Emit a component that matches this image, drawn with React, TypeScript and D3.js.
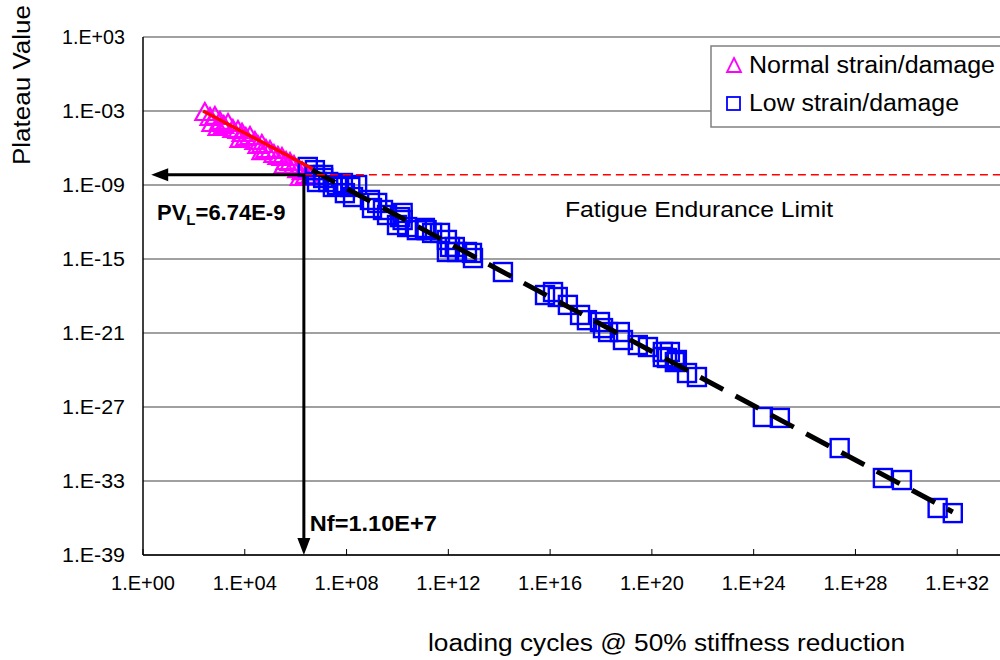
import { useRef, useEffect } from "react";
import * as d3 from "d3";

// axis ticks
const xTicks = [1e0, 1e4, 1e8, 1e12, 1e16, 1e20, 1e24, 1e28, 1e32];
const xTickLabels = ["1.E+00", "1.E+04", "1.E+08", "1.E+12", "1.E+16", "1.E+20", "1.E+24", "1.E+28", "1.E+32"];
const yTicks = [1e3, 1e-3, 1e-9, 1e-15, 1e-21, 1e-27, 1e-33, 1e-39];
const yTickLabels = ["1.E+03", "1.E-03", "1.E-09", "1.E-15", "1.E-21", "1.E-27", "1.E-33", "1.E-39"];

// Normal strain/damage (triangles)
const normalX = [
  2.7e2, 4.3e2, 6.7e2, 1.06e3, 1.5e3, 2.2e3, 3.4e3, 5.4e3, 7.8e3, 1.1e4, 1.6e4, 2.5e4, 3.3e4,
  4.7e4, 6.8e4, 9.8e4, 1.4e5, 2.0e5, 2.9e5, 4.2e5, 6.0e5, 8.6e5, 1.2e6, 1.8e6, 2.5e6, 3.6e6,
  5.1e2, 8.9e2, 6.5e3, 4.7e4, 3.5e5, 1.5e6,
];
const normalY = [
  6.9e-4, 2.7e-4, 3.3e-4, 1.3e-4, 6.1e-5, 8.8e-5, 2.9e-5, 2.4e-5, 1.4e-5, 6.5e-6, 7.8e-6, 3.1e-6, 1.45e-6,
  1.75e-6, 6.9e-7, 5.7e-7, 2.7e-7, 1.9e-7, 1.55e-7, 7.3e-8, 6.1e-8, 3.5e-8, 1.6e-8, 1.1e-8, 5.4e-9, 3.7e-9,
  8.8e-5, 4.2e-5, 4.5e-6, 4.7e-7, 3.5e-8, 3.7e-9,
];

// Low strain/damage (squares)
const lowX = [
  3.0e6, 5.7e6, 5.7e6, 1.2e7, 1.2e7, 6.9e6, 1.9e7, 2.9e7, 4.2e7, 7.2e7, 1.4e8, 2.6e8, 8.6e7, 1.8e8,
  8.3e8, 1.6e9, 1.0e9, 2.7e9, 3.9e9, 1.25e10, 1.6e10, 9.6e9, 2.4e10, 5.8e10, 1.4e11, 1.6e10, 1.2e11,
  2.3e11, 4.7e11, 8.8e11, 1.16e12, 1.8e12, 8.8e11, 2.2e12, 5.4e12, 8.5e12, 9.3e12, 1.4e14,
  6.3e15, 1.3e16, 2.0e16, 5.0e16, 1.5e17, 2.8e17, 9.1e17, 1.2e18, 1.9e18, 5.5e18, 7.3e18, 2.8e19,
  7.0e19, 2.7e20, 3.9e20, 9.6e20, 2.4e21, 5.9e21, 2.7e20, 5.1e20, 8.0e20,
  2.3e24, 1.07e25, 2.4e27, 1.2e29, 6.7e29, 1.7e31, 6.7e31,
];
const lowY = [
  2.9e-8, 1.6e-8, 6.5e-9, 6.5e-9, 3.7e-9, 1.75e-9, 1.75e-9, 6.9e-10, 1.0e-9, 1.45e-9, 6.9e-10, 1.0e-9, 2.2e-10, 1.06e-10,
  6.1e-11, 3.5e-11, 1.36e-11, 9.4e-12, 3.7e-12, 2.5e-12, 1.45e-12, 5.7e-13, 3.9e-13, 2.2e-13, 2.2e-13, 5.4e-12, 3.3e-13,
  1.3e-13, 1.3e-13, 3.5e-14, 9.4e-15, 9.4e-15, 3.7e-15, 3.7e-15, 3.7e-15, 3.1e-15, 1.2e-15, 8.8e-17,
  1.2e-18, 2.1e-18, 8.3e-19, 1.9e-19, 2.9e-20, 1.1e-20, 7.8e-21, 2.5e-21, 1.2e-21, 1.2e-21, 2.7e-22, 1.06e-22,
  7.3e-23, 2.9e-23, 9.4e-24, 6.5e-24, 5.7e-25, 2.7e-25, 1.13e-23, 2.9e-23, 4.4e-24,
  1.55e-28, 1.3e-28, 4.7e-31, 1.75e-33, 1.2e-33, 6.5e-36, 2.5e-36,
];

// fitted trend lines
const normalFitX = [2.3e2, 4.8e6];
const normalFitY = [1.0e-3, 2.0e-8];
const lowFitX = [4.4e6, 6.7e31];
const lowFitY = [1.6e-8, 3.1e-36];

// fatigue endurance limit
const plateauLimit = 6.74e-9;
const nfAtLimit = 2.1e6;
const arrowLeftX = 2.1;
const limitEndX = 1e36;

const FONT = "'Liberation Sans', Arial, sans-serif";

const App = () => {
  const svgRef = useRef<SVGSVGElement>(null);

  useEffect(() => {
    const svg = d3.select(svgRef.current);
    svg.selectAll("*").remove();

    const width = 1000;
    const height = 660;
    const margin = { top: 37, left: 143, bottom: 105 };

    const x = d3.scaleLog().domain([1, 1e36]).range([margin.left, 1059]);
    const y = d3.scaleLog().domain([1e3, 1e-39]).range([margin.top, height - margin.bottom]);
    const y0 = height - margin.bottom;

    // horizontal gridlines
    svg
      .append("g")
      .selectAll("line")
      .data(yTicks)
      .join("line")
      .attr("x1", margin.left)
      .attr("x2", width)
      .attr("y1", (d) => y(d))
      .attr("y2", (d) => y(d))
      .attr("stroke", "#808080")
      .attr("stroke-width", 1.5);

    // y tick labels
    svg
      .append("g")
      .selectAll("text")
      .data(yTicks)
      .join("text")
      .attr("x", 125)
      .attr("y", (d) => y(d) + 7)
      .attr("text-anchor", "end")
      .attr("textLength", 63)
      .attr("lengthAdjust", "spacingAndGlyphs")
      .style("font-family", FONT)
      .style("font-size", "20px")
      .text((d, i) => yTickLabels[i]);

    // x ticks (inside) + labels
    svg
      .append("g")
      .selectAll("line")
      .data(xTicks)
      .join("line")
      .attr("x1", (d) => x(d))
      .attr("x2", (d) => x(d))
      .attr("y1", y0)
      .attr("y2", y0 - 6)
      .attr("stroke", "#000")
      .attr("stroke-width", 1);

    svg
      .append("g")
      .selectAll("text")
      .data(xTicks)
      .join("text")
      .attr("x", (d) => x(d) - 32)
      .attr("y", y0 + 35)
      .attr("textLength", 64)
      .attr("lengthAdjust", "spacingAndGlyphs")
      .style("font-family", FONT)
      .style("font-size", "20px")
      .text((d, i) => xTickLabels[i]);

    // axis lines
    svg
      .append("line")
      .attr("x1", margin.left)
      .attr("x2", margin.left)
      .attr("y1", margin.top)
      .attr("y2", y0)
      .attr("stroke", "#000")
      .attr("stroke-width", 1.5);
    svg
      .append("line")
      .attr("x1", margin.left)
      .attr("x2", width)
      .attr("y1", y0)
      .attr("y2", y0)
      .attr("stroke", "#000")
      .attr("stroke-width", 1.5);

    // axis titles
    svg
      .append("text")
      .attr("transform", `translate(30,165) rotate(-90)`)
      .attr("textLength", 160)
      .attr("lengthAdjust", "spacingAndGlyphs")
      .style("font-family", FONT)
      .style("font-size", "23px")
      .text("Plateau Value");

    svg
      .append("text")
      .attr("x", 428)
      .attr("y", 651)
      .attr("textLength", 477)
      .attr("lengthAdjust", "spacingAndGlyphs")
      .style("font-family", FONT)
      .style("font-size", "23px")
      .text("loading cycles @ 50% stiffness reduction");

    // points
    const normal = normalX.map((v, i) => ({ x: v, y: normalY[i] }));
    const low = lowX.map((v, i) => ({ x: v, y: lowY[i] }));

    svg
      .append("g")
      .selectAll("path")
      .data(normal)
      .join("path")
      .attr("d", "M0,-10L9.5,7L-9.5,7Z")
      .attr("transform", (d) => `translate(${x(d.x)},${y(d.y)})`)
      .attr("fill", "none")
      .attr("stroke", "#ff00ff")
      .attr("stroke-width", 2.2);

    svg
      .append("g")
      .selectAll("rect")
      .data(low)
      .join("rect")
      .attr("x", (d) => x(d.x) - 9)
      .attr("y", (d) => y(d.y) - 9)
      .attr("width", 18)
      .attr("height", 18)
      .attr("fill", "none")
      .attr("stroke", "#0000ff")
      .attr("stroke-width", 2.4);

    // trend lines
    svg
      .append("line")
      .attr("x1", x(normalFitX[0]))
      .attr("y1", y(normalFitY[0]))
      .attr("x2", x(normalFitX[1]))
      .attr("y2", y(normalFitY[1]))
      .attr("stroke", "#ff0000")
      .attr("stroke-width", 3.5);

    svg
      .append("line")
      .attr("x1", x(lowFitX[0]))
      .attr("y1", y(lowFitY[0]))
      .attr("x2", x(lowFitX[1]))
      .attr("y2", y(lowFitY[1]))
      .attr("stroke", "#000")
      .attr("stroke-width", 5)
      .attr("stroke-dasharray", "26,14");

    // endurance limit
    svg
      .append("line")
      .attr("x1", x(nfAtLimit))
      .attr("x2", x(limitEndX))
      .attr("y1", y(plateauLimit))
      .attr("y2", y(plateauLimit))
      .attr("stroke", "#ff0000")
      .attr("stroke-width", 1.5)
      .attr("stroke-dasharray", "8,5");

    // arrows
    const ax = x(nfAtLimit);
    const ay = y(plateauLimit);
    const axL = x(arrowLeftX);
    svg
      .append("path")
      .attr("d", `M${ax},${y0 - 14}L${ax},${ay}L${axL + 14},${ay}`)
      .attr("fill", "none")
      .attr("stroke", "#000")
      .attr("stroke-width", 3);
    svg
      .append("path")
      .attr("d", `M${axL},${ay}L${axL + 17},${ay - 6.5}L${axL + 17},${ay + 6.5}Z`)
      .attr("fill", "#000");
    svg
      .append("path")
      .attr("d", `M${ax},${y0}L${ax - 6.5},${y0 - 17}L${ax + 6.5},${y0 - 17}Z`)
      .attr("fill", "#000");

    // annotation labels
    const pv = svg
      .append("text")
      .attr("x", 157)
      .attr("y", 220)
      .style("font-family", FONT)
      .style("font-size", "22px")
      .style("font-weight", "bold");
    pv.append("tspan").text("PV");
    pv.append("tspan").attr("dy", 5).style("font-size", "15px").text("L");
    pv.append("tspan").attr("dy", -5).text("=6.74E-9");

    svg
      .append("text")
      .attr("x", ax + 6)
      .attr("y", 531)
      .attr("textLength", 127)
      .attr("lengthAdjust", "spacingAndGlyphs")
      .style("font-family", FONT)
      .style("font-size", "22px")
      .style("font-weight", "bold")
      .text("Nf=1.10E+7");

    svg
      .append("text")
      .attr("x", 565)
      .attr("y", 217)
      .attr("textLength", 268)
      .attr("lengthAdjust", "spacingAndGlyphs")
      .style("font-family", FONT)
      .style("font-size", "22px")
      .text("Fatigue Endurance Limit");

    // legend
    const legend = svg.append("g");
    legend
      .append("rect")
      .attr("x", 711)
      .attr("y", 46)
      .attr("width", 300)
      .attr("height", 81)
      .attr("fill", "#fff")
      .attr("stroke", "#808080")
      .attr("stroke-width", 1.5);
    legend
      .append("path")
      .attr("d", "M0,-8L7,6L-7,6Z")
      .attr("transform", "translate(734,66)")
      .attr("fill", "none")
      .attr("stroke", "#ff00ff")
      .attr("stroke-width", 1.8);
    legend
      .append("rect")
      .attr("x", 727)
      .attr("y", 97)
      .attr("width", 13)
      .attr("height", 13)
      .attr("fill", "none")
      .attr("stroke", "#0000ff")
      .attr("stroke-width", 1.8);
    legend
      .append("text")
      .attr("x", 749)
      .attr("y", 73)
      .attr("textLength", 246)
      .attr("lengthAdjust", "spacingAndGlyphs")
      .style("font-family", FONT)
      .style("font-size", "23px")
      .text("Normal strain/damage");
    legend
      .append("text")
      .attr("x", 749)
      .attr("y", 111)
      .attr("textLength", 210)
      .attr("lengthAdjust", "spacingAndGlyphs")
      .style("font-family", FONT)
      .style("font-size", "23px")
      .text("Low strain/damage");
  }, []);

  return (
    <svg
      ref={svgRef}
      width="1000"
      height="660"
      style={{ position: "absolute", left: 0, top: 0, background: "#fff" }}
    />
  );
};

export default App;
